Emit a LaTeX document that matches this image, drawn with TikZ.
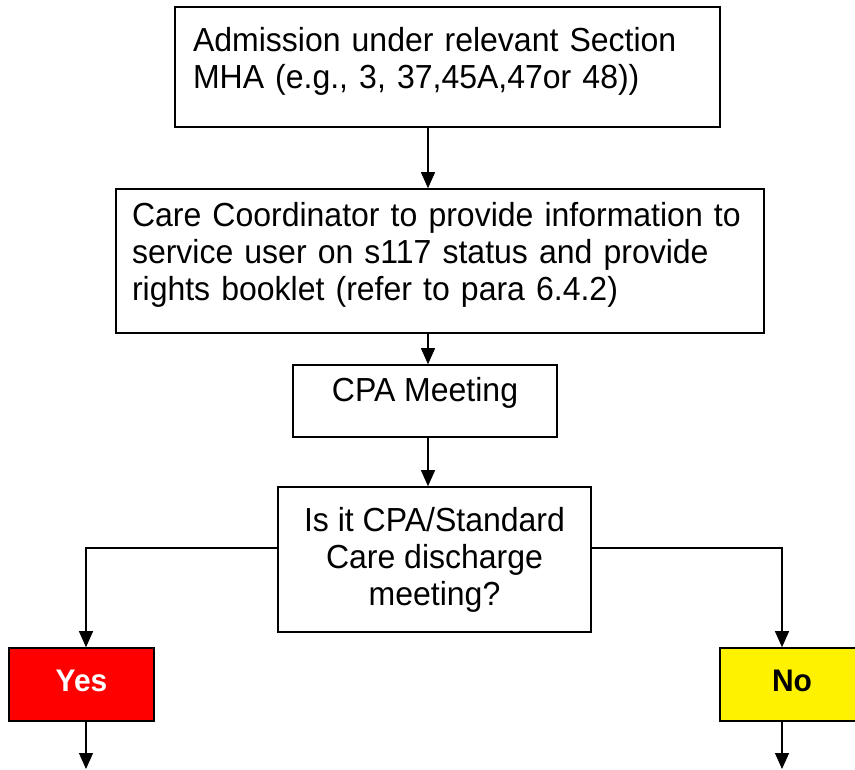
\documentclass[tikz,border=0pt]{standalone}
\usepackage{fontspec}
\setmainfont{Liberation Sans}[FakeStretch=0.96]
\usetikzlibrary{arrows.meta}
\tikzstyle{block} = [draw, rectangle, line width=1.2pt,
    font=\fontsize{25}{27.75}\selectfont]
\tikzstyle{answer} = [draw, rectangle, line width=1.2pt,
    minimum height=54.75pt, font=\bfseries\fontsize{23.4}{26}\selectfont]
\tikzstyle{point} = [coordinate]

\begin{document}
\begin{tikzpicture}[x=0.75pt, y=-0.75pt, line width=0.9pt,
    >={Triangle[length=12pt,width=10.5pt]}]
    \useasboundingbox (0,0) rectangle (855,769);
    % % % % % % % % % % % % % % % % % % % % % % %
    % Main column
    % % % % % % % % % % % % % % % % % % % % % % %
    % Admission box
    \node [block, minimum width=408.75pt, minimum height=90pt,
        inner xsep=13.5pt, text width=381.75pt, align=left] (admit) at (447.5,67)
        {Admission under relevant Section\\MHA (e.g., 3, 37,45A,47or 48))\rule[-13pt]{0pt}{0pt}};
    
    % Care coordinator box
    \node [block, minimum width=486pt, minimum height=108pt,
        inner xsep=12pt, text width=462pt, align=left] (coord) at (440,261)
        {Care Coordinator to provide information to\\service user on s117 status and provide\\rights booklet (refer to para 6.4.2)\rule[-14pt]{0pt}{0pt}};
    
    % meeting
    \node [block, minimum width=198pt, minimum height=54pt] (meeting) at (425,401)
        {CPA Meeting\rule[-17pt]{0pt}{0pt}};
    
    % question
    \node [block, minimum width=234.75pt, minimum height=108.75pt,
        align=center] (decide) at (434.5,559.5)
        {Is it CPA/Standard\\Care discharge\\meeting?};
    
    % Answers
    \node [answer, fill=red, text=white, minimum width=108.75pt] (yes) at (81.5,684.5)
        {Yes\rule[-6pt]{0pt}{0pt}};
    \node [answer, fill=yellow, minimum width=108pt] (no) at (792,684.5)
        {No\rule[-6pt]{0pt}{0pt}};
    
    % Silent points for the lines
    \node [point] (spine) at (428,0) {};
    \node [point] (fork) at (434.5,548) {};
    \node [point] (yesend) at (86,769) {};
    \node [point] (noend) at (782,769) {};
    
    % Once the nodes are placed, connecting them is easy.
    \draw [->] (admit.south -| spine) -- (coord.north -| spine);
    \draw [->] (coord.south -| spine) -- (meeting.north -| spine);
    \draw [->] (meeting.south -| spine) -- (decide.north -| spine);
    
    % branches
    \draw [->] (decide.west |- fork) -| (yes.north -| yesend);
    \draw [->] (decide.east |- fork) -| (no.north -| noend);
    \draw [->] (yes.south -| yesend) -- (yesend);
    \draw [->] (no.south -| noend) -- (noend);
    
\end{tikzpicture}
\end{document}
